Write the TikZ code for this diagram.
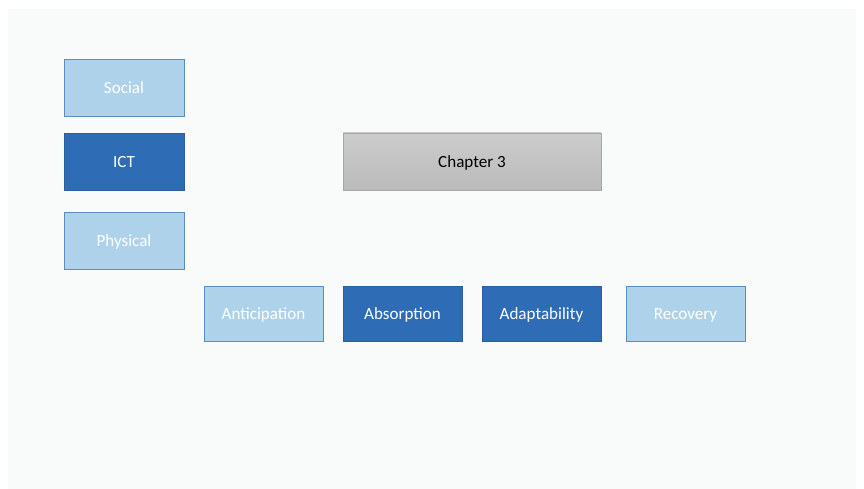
\documentclass[tikz,border=0pt]{standalone}
\usepackage{fontspec}
\setmainfont{Carlito}
\usetikzlibrary{shapes}
\definecolor{lightblue}{HTML}{AED2EA}
\definecolor{lightedge}{HTML}{5A8DC2}
\definecolor{darkblue}{HTML}{2E6DB5}
\definecolor{darkedge}{HTML}{2A5E9C}
\definecolor{panel}{HTML}{F9FAFA}
\begin{document}
\begin{tikzpicture}[font=\fontsize{9.7}{11}\selectfont,
  box/.style={rectangle,minimum width=2.4cm,minimum height=1.14cm,inner sep=0pt,text=white,line width=0.5pt,text height=1.45ex,text depth=0pt},
  light/.style={box,fill=lightblue,draw=lightedge},
  dark/.style={box,fill=darkblue,draw=darkedge},
  low/.style={minimum width=2.38cm,minimum height=1.1cm}]
  \useasboundingbox (0,0) rectangle (17.28,9.78);
  \fill[panel] (0.16,0) rectangle (17.12,9.6);
  \node[light] (social) at (2.48, 8.03) {Social};
  \node[dark] (ict) at (2.48, 6.55) {ICT};
  \node[light] (physical) at (2.48, 4.97) {Physical};
  \node[box,minimum width=5.16cm,text=black,draw=black!35,top color=black!20,bottom color=black!27] (ch3) at (9.44, 6.55) {Chapter 3};
  \node[light,low] (anticip) at (5.27, 3.51) {Anticipation};
  \node[dark,low] (absorp) at (8.05, 3.51) {Absorption};
  \node[dark,low] (adapt) at (10.83, 3.51) {Adaptability};
  \node[light,low] (recov) at (13.71, 3.51) {Recovery};
\end{tikzpicture}
\end{document}
